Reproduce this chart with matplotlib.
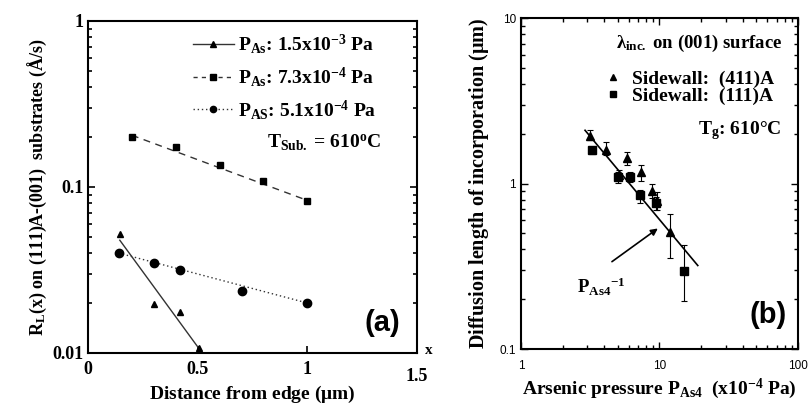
import matplotlib
matplotlib.use('Agg')
import matplotlib.pyplot as plt
from matplotlib.lines import Line2D

plt.rcParams['font.family'] = 'Liberation Serif'
plt.rcParams['font.weight'] = 'bold'
plt.rcParams['axes.labelweight'] = 'bold'
plt.rcParams['mathtext.fontset'] = 'custom'
plt.rcParams['mathtext.rm'] = 'Liberation Serif:bold'
plt.rcParams['mathtext.it'] = 'Liberation Serif:bold'
plt.rcParams['mathtext.bf'] = 'Liberation Serif:bold'

# (a) growth rate vs distance from edge
tri_x = [0.145, 0.30, 0.42, 0.505]
tri_y = [0.052, 0.0197, 0.0176, 0.0107]
tri_fit_x = [0.145, 0.50]
tri_fit_y = [0.0478, 0.0109]

sq_x = [0.2, 0.4, 0.6, 0.8, 1.0]
sq_y = [0.201, 0.175, 0.136, 0.109, 0.082]
sq_fit_x = [0.2, 1.0]
sq_fit_y = [0.205, 0.083]

cir_x = [0.14, 0.30, 0.42, 0.70, 1.0]
cir_y = [0.0398, 0.0347, 0.0315, 0.0236, 0.020]
cir_fit_x = [0.14, 1.0]
cir_fit_y = [0.040, 0.020]

labels_a = [r'P$_{\mathrm{As}}$: 1.5x10$^{\mathrm{-3}}$ Pa',
            r'P$_{\mathrm{As}}$: 7.3x10$^{\mathrm{-4}}$ Pa',
            r'P$_{\mathrm{AS}}$: 5.1x10$^{\mathrm{-4}}$ Pa']

# (b) diffusion length vs arsenic pressure
b_tri_x = [3.14, 4.09, 5.79, 5.07, 7.39, 8.86, 9.52, 11.9]
b_tri_y = [1.95, 1.60, 1.43, 1.13, 1.17, 0.90, 0.78, 0.507]
b_tri_lo = [0.12, 0.12, 0.14, 0.08, 0.14, 0.08, 0.09, 0.15]
b_tri_hi = [0.15, 0.18, 0.12, 0.08, 0.12, 0.10, 0.11, 0.15]

b_sq_x = [3.23, 5.0, 6.09, 7.18, 9.37, 14.96]
b_sq_y = [1.59, 1.09, 1.10, 0.85, 0.76, 0.296]
b_sq_lo = [0.07, 0.08, 0.08, 0.09, 0.07, 0.10]
b_sq_hi = [0.07, 0.08, 0.08, 0.06, 0.07, 0.13]

line_b_x = [2.9, 18.9]
line_b_y = [2.1, 0.32]

fig = plt.figure(figsize=(8.08, 4.05), dpi=100)
ax1 = fig.add_axes([0.1089, 0.1284, 0.4072, 0.8198])
ax2 = fig.add_axes([0.6448, 0.138, 0.3428, 0.8173])

# ---- panel (a)
ax1.plot(tri_fit_x, tri_fit_y, color='#333333', lw=1.0, ls='-')
ax1.plot(sq_fit_x, sq_fit_y, color='#333333', lw=1.0, ls=(0, (5, 4)))
ax1.plot(cir_fit_x, cir_fit_y, color='#333333', lw=1.0, ls=(0, (1, 2)))
ax1.plot(tri_x, tri_y, '^', color='black', ms=5)
ax1.plot(sq_x, sq_y, 's', color='black', ms=5)
ax1.plot(cir_x, cir_y, 'o', color='black', ms=6)

ax1.set_yscale('log')
ax1.set_xlim(0, 1.5)
ax1.set_ylim(0.01, 1)
ax1.set_xticks([0, 0.5, 1, 1.5])
ax1.set_xticklabels(['0', '0.5', '1', ''])
ax1.set_yticks([0.01, 0.1, 1])
ax1.set_yticklabels(['0.01', '0.1', '1'])
ax1.tick_params(which='both', direction='in', right=True, labelsize=13, width=1.2)
ax1.tick_params(which='major', length=5)
ax1.tick_params(which='minor', length=3)
ax1.tick_params(axis='x', pad=6)
for lab in ax1.get_xticklabels() + ax1.get_yticklabels():
    lab.set_fontweight('bold')
for s in ax1.spines.values():
    s.set_linewidth(1.5)
ax1.set_xlabel(r'Distance from edge ($\mu$m)', fontsize=14, labelpad=4)
ax1.set_ylabel(r'R$_{\mathrm{L}}$(x) on (111)A-(001)  substrates ($\mathrm{\AA}$/s)', fontsize=13, labelpad=2)
ax1.text(1.5, -0.045, '1.5', transform=ax1.get_xaxis_transform(), ha='center', va='top',
         fontsize=13, fontweight='bold', clip_on=False)
ax1.text(1.555, 0.0104, 'x', ha='center', va='center', fontsize=11, clip_on=False)

handles = [Line2D([], [], color='#333333', lw=1.0, ls='-', marker='^', ms=4, mfc='black', mec='black'),
           Line2D([], [], color='#333333', lw=1.0, ls=(0, (3, 3)), marker='s', ms=4, mfc='black', mec='black'),
           Line2D([], [], color='#333333', lw=1.0, ls=(0, (1, 2)), marker='o', ms=4.5, mfc='black', mec='black')]
ax1.legend(handles, labels_a, loc='upper right', bbox_to_anchor=(0.905, 0.995), frameon=False,
           fontsize=14, handlelength=2.1, handletextpad=0.2, labelspacing=0.45, borderpad=0)
ax1.text(0.89, 0.633, r'T$_{\mathrm{Sub.}}$ = 610$^{\mathrm{o}}$C', transform=ax1.transAxes,
         ha='right', va='center', fontsize=14)
ax1.text(0.95, 0.09, '(a)', transform=ax1.transAxes, ha='right', va='center',
         fontsize=21, family='Liberation Sans', fontweight='bold')

# ---- panel (b)
ax2.errorbar(b_tri_x, b_tri_y, yerr=[b_tri_lo, b_tri_hi], fmt='^', color='black', ms=5.5,
             elinewidth=0.8, capsize=2, capthick=0.8)
ax2.errorbar(b_sq_x, b_sq_y, yerr=[b_sq_lo, b_sq_hi], fmt='s', color='black', ms=5.5,
             elinewidth=0.8, capsize=2, capthick=0.8)
ax2.plot(line_b_x, line_b_y, color='black', lw=1.2)
ax2.annotate('', xy=(10.1, 0.548), xytext=(4.37, 0.33),
             arrowprops=dict(arrowstyle='-|>', color='black', lw=1.2, mutation_scale=10))
ax2.text(2.53, 0.237, r'P$_{\mathrm{As4}}$$^{\mathrm{-1}}$', fontsize=13.5, ha='left', va='center')

ax2.set_xscale('log')
ax2.set_yscale('log')
ax2.set_xlim(1, 100)
ax2.set_ylim(0.1, 10)
ax2.set_xticks([1, 10, 100])
ax2.set_xticklabels(['1', '10', '100'])
ax2.set_yticks([0.1, 1, 10])
ax2.set_yticklabels(['0.1', '1', '10'])
ax2.tick_params(which='both', direction='in', top=True, right=True, labelsize=8.5, width=1.0)
ax2.tick_params(which='major', length=5)
ax2.tick_params(which='minor', length=3)
ax2.tick_params(axis='x', pad=8)
for lab in ax2.get_xticklabels() + ax2.get_yticklabels():
    lab.set_family('Liberation Sans')
    lab.set_fontweight('normal')
for s in ax2.spines.values():
    s.set_linewidth(1.5)
ax2.set_xlabel(r'Arsenic pressure P$_{\mathrm{As4}}$  (x10$^{\mathrm{-4}}$ Pa)', fontsize=14, labelpad=3)
ax2.set_ylabel(r'Diffusion length of incorporation ($\mu$m)', fontsize=14.5, labelpad=6)

ax2.text(0.942, 0.924, r'$\lambda_{\mathrm{inc.}}$ on (001) surface', transform=ax2.transAxes,
         ha='right', va='center', fontsize=13.5)
hb = [Line2D([], [], ls='none', marker='^', ms=5, color='black'),
      Line2D([], [], ls='none', marker='s', ms=5, color='black')]
ax2.legend(hb, ['Sidewall:  (411)A', 'Sidewall:  (111)A'], loc='upper right',
           bbox_to_anchor=(0.95, 0.873), frameon=False, fontsize=14, handlelength=1,
           handletextpad=0.5, labelspacing=0.0, borderpad=0)
ax2.text(0.942, 0.66, r'T$_{\mathrm{g}}$: 610°C', transform=ax2.transAxes,
         ha='right', va='center', fontsize=14)
ax2.text(0.96, 0.103, '(b)', transform=ax2.transAxes, ha='right', va='center',
         fontsize=21, family='Liberation Sans', fontweight='bold')

fig.savefig('out.png', dpi=100)
